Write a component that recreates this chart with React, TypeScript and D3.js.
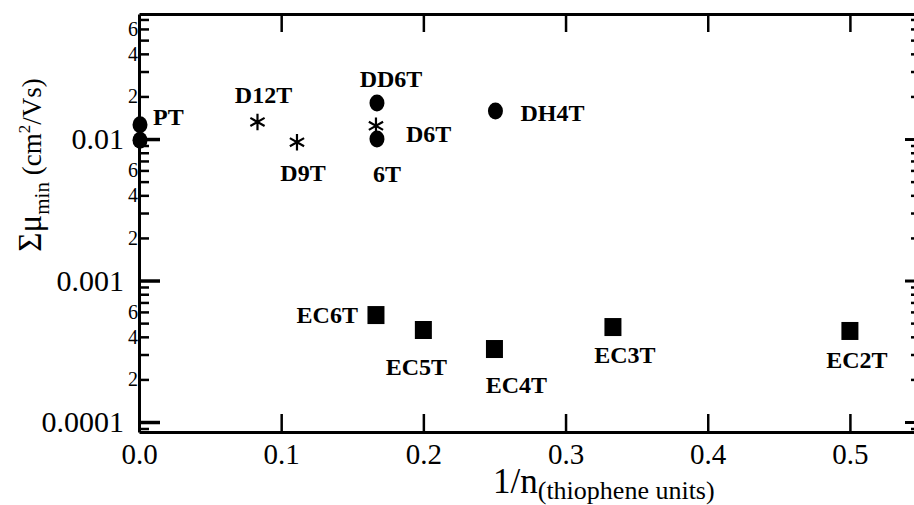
import React, { Component } from 'react';
import * as d3 from 'd3';

// compounds, 1/n (thiophene units) and summed min. mobility (cm2/Vs)
const compounds = ['PT', 'PT', 'D12T', 'D9T', 'DD6T', 'D6T', '6T', 'DH4T', 'EC6T', 'EC5T', 'EC4T', 'EC3T', 'EC2T'];
const invN = [0, 0, 1 / 12, 1 / 9, 1 / 6, 1 / 6, 1 / 6, 1 / 4, 1 / 6, 1 / 5, 1 / 4, 1 / 3, 1 / 2];
const mobility = [0.0126, 0.0098, 0.0132, 0.0095, 0.018, 0.0124, 0.01, 0.0158, 0.00057, 0.000447, 0.000328, 0.000469, 0.00044];
const markers = ['circle', 'circle', 'star', 'star', 'circle', 'star', 'circle', 'circle', 'square', 'square', 'square', 'square', 'square'];
const showLabel = [true, false, true, true, true, true, true, true, true, true, true, true, true];

const xTicks = [0, 0.1, 0.2, 0.3, 0.4, 0.5];
const xTickLabels = ['0.0', '0.1', '0.2', '0.3', '0.4', '0.5'];
const yMajor = [0.0001, 0.001, 0.01];
const yMajorLabels = ['0.0001', '0.001', '0.01'];
const yMinorLabelled = [2, 4, 6];

// label placement relative to the marker (px)
const labelPlace = [
  { dx: 14, dy: 0, anchor: 'start' },
  { dx: 0, dy: 0, anchor: 'start' },
  { dx: 6, dy: -19, anchor: 'middle' },
  { dx: 6, dy: 39, anchor: 'middle' },
  { dx: 15, dy: -16, anchor: 'middle' },
  { dx: 30, dy: 16, anchor: 'start' },
  { dx: 11, dy: 43, anchor: 'middle' },
  { dx: 26, dy: 10, anchor: 'start' },
  { dx: -18, dy: 8, anchor: 'end' },
  { dx: -7, dy: 45, anchor: 'middle' },
  { dx: 22, dy: 44, anchor: 'middle' },
  { dx: 12, dy: 36, anchor: 'middle' },
  { dx: 7, dy: 37, anchor: 'middle' }
];

const FONT = "'Liberation Serif', 'Times New Roman', serif";

class MobilityChart extends Component {
  svgRef = React.createRef<SVGSVGElement>();

  componentDidMount() {
    this.renderChart();
  }

  renderChart = () => {
    const svg = d3.select(this.svgRef.current);
    svg.selectAll('*').remove();

    const width = 914;
    const height = 505;
    const margin = { top: 14, right: -7, bottom: 73, left: 139 };

    const x = d3
      .scaleLinear()
      .domain([0, 0.55])
      .range([margin.left, width - margin.right]);
    const y = d3
      .scaleLog()
      .domain([8.5e-5, 0.0765])
      .range([height - margin.bottom, margin.top]);

    const isMajor = (d: number) => Math.abs(Math.log10(d) - Math.round(Math.log10(d))) < 1e-6;
    const yMinor = y.ticks().filter(d => !isMajor(d));
    const mantissa = (d: number) => Math.round(d / Math.pow(10, Math.floor(Math.log10(d) + 1e-9)));

    const style = (g: any, fontSize: number) => {
      g.selectAll('text').attr('font-family', FONT).attr('font-size', fontSize).attr('fill', '#000');
      g.selectAll('line').attr('stroke', '#000');
      g.attr('font-size', null).attr('font-family', null);
    };

    // left axis
    const left = svg
      .append('g')
      .attr('transform', `translate(${margin.left},0)`)
      .call(
        d3.axisLeft(y)
          .tickValues(yMajor)
          .tickFormat((d, i) => yMajorLabels[i])
          .tickSizeInner(-21)
          .tickSizeOuter(0)
          .tickPadding(15)
      );
    style(left, 30);
    left.selectAll('line').attr('stroke-width', 3.5);
    left.select('.domain').attr('stroke', '#000').attr('stroke-width', 3);

    const leftMinor = svg
      .append('g')
      .attr('transform', `translate(${margin.left},0)`)
      .call(
        d3.axisLeft(y)
          .tickValues(yMinor)
          .tickFormat(d => (yMinorLabelled.includes(mantissa(+d)) ? String(mantissa(+d)) : ''))
          .tickSizeInner(-10)
          .tickSizeOuter(0)
          .tickPadding(1)
      );
    style(leftMinor, 20);
    leftMinor.selectAll('line').attr('stroke-width', 2.5);
    leftMinor.select('.domain').remove();

    // right axis (mostly outside the frame)
    const rightX = width - margin.right;
    const right = svg
      .append('g')
      .attr('transform', `translate(${rightX},0)`)
      .call(d3.axisRight(y).tickValues(yMajor).tickFormat(() => '').tickSizeInner(-16).tickSizeOuter(0));
    style(right, 10);
    right.selectAll('line').attr('stroke-width', 3);
    right.select('.domain').remove();
    const rightMinor = svg
      .append('g')
      .attr('transform', `translate(${rightX},0)`)
      .call(d3.axisRight(y).tickValues(yMinor).tickFormat(() => '').tickSizeInner(-10).tickSizeOuter(0));
    style(rightMinor, 10);
    rightMinor.selectAll('line').attr('stroke-width', 2.5);
    rightMinor.select('.domain').remove();

    // bottom axis
    const bottom = svg
      .append('g')
      .attr('transform', `translate(0,${height - margin.bottom})`)
      .call(
        d3.axisBottom(x)
          .tickValues(xTicks)
          .tickFormat((d, i) => xTickLabels[i])
          .tickSizeInner(-18)
          .tickSizeOuter(0)
          .tickPadding(11)
      );
    style(bottom, 29);
    bottom.selectAll('line').attr('stroke-width', 2.5);
    bottom.select('.domain').attr('stroke', '#000').attr('stroke-width', 3);

    // top axis
    const top = svg
      .append('g')
      .attr('transform', `translate(0,${margin.top})`)
      .call(
        d3.axisTop(x)
          .tickValues(xTicks.slice(1))
          .tickFormat(() => '')
          .tickSizeInner(-18)
          .tickSizeOuter(0)
      );
    style(top, 10);
    top.selectAll('line').attr('stroke-width', 2.5);
    top.select('.domain').attr('stroke', '#000').attr('stroke-width', 3);

    // markers
    const pts = compounds.map((c, i) => ({ c, i, px: x(invN[i]), py: y(mobility[i]), m: markers[i] }));
    const g = svg.append('g');

    g.selectAll('.circle')
      .data(pts.filter(p => p.m === 'circle'))
      .enter()
      .append('ellipse')
      .attr('cx', p => p.px + 1)
      .attr('cy', p => p.py)
      .attr('rx', 7.5)
      .attr('ry', 8.5)
      .attr('fill', '#000');

    g.selectAll('.square')
      .data(pts.filter(p => p.m === 'square'))
      .enter()
      .append('rect')
      .attr('x', p => p.px - 8.5)
      .attr('y', p => p.py - 9)
      .attr('width', 17)
      .attr('height', 18)
      .attr('fill', '#000');

    const star = d3.symbol().type(d3.symbolAsterisk).size(190);
    g.selectAll('.star')
      .data(pts.filter(p => p.m === 'star'))
      .enter()
      .append('path')
      .attr('transform', p => `translate(${p.px},${p.py})`)
      .attr('d', star() as string)
      .attr('fill', 'none')
      .attr('stroke', '#000')
      .attr('stroke-width', 2.2);

    // compound labels
    g.selectAll('.lbl')
      .data(pts.filter(p => showLabel[p.i]))
      .enter()
      .append('text')
      .attr('x', p => p.px + labelPlace[p.i].dx)
      .attr('y', p => p.py + labelPlace[p.i].dy)
      .attr('text-anchor', p => labelPlace[p.i].anchor)
      .attr('font-family', FONT)
      .attr('font-weight', 'bold')
      .attr('font-size', 24)
      .text(p => p.c);

    // y title
    const yTitle = svg
      .append('text')
      .attr('transform', 'translate(41,165) rotate(-90)')
      .attr('text-anchor', 'middle')
      .attr('font-family', FONT);
    yTitle.append('tspan').attr('font-size', 33).text('Σμ');
    yTitle.append('tspan').attr('font-size', 21).attr('dy', 8).text('min');
    yTitle.append('tspan').attr('font-size', 27).attr('dy', -8).text(' (cm');
    yTitle.append('tspan').attr('font-size', 17).attr('dy', -11).text('2');
    yTitle.append('tspan').attr('font-size', 27).attr('dy', 11).text('/Vs)');

    // x title
    const xTitle = svg
      .append('text')
      .attr('x', 493)
      .attr('y', 493)
      .attr('font-family', FONT);
    xTitle.append('tspan').attr('font-size', 35).text('1/n');
    xTitle.append('tspan').attr('font-size', 26).attr('dy', 6).text('(thiophene units)');
  };

  render() {
    return (
      <div style={{ position: 'absolute', left: 0, top: 0 }}>
        <svg width={914} height={505} ref={this.svgRef} style={{ display: 'block', background: '#fff' }} />
      </div>
    );
  }
}

export default function App() {
  return <MobilityChart />;
}
